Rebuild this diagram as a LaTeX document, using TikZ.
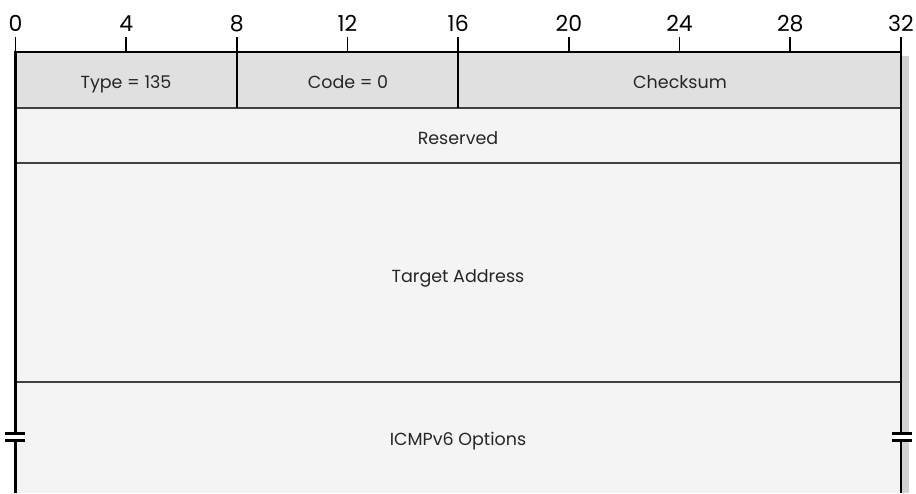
\documentclass[tikz,border=0pt]{standalone}
\usepackage{fontspec}
\setmainfont{Poppins}
\definecolor{hdrfill}{HTML}{E0E0E0}
\definecolor{bodyfill}{HTML}{F4F4F4}
\definecolor{rowline}{HTML}{404040}
\definecolor{shadow}{HTML}{D2D2D2}
\begin{document}
\begin{tikzpicture}[x=1pt,y=-1pt,
  fieldtext/.style={font=\fontsize{17.5}{20}\selectfont, text=black!85, inner sep=0pt, anchor=base},
  ticklabel/.style={font=\fontsize{22}{24}\selectfont, anchor=base, inner sep=0pt},
  frame/.style={line width=2.4pt, black},
  sep/.style={line width=1.6pt, black},
  rowsep/.style={line width=1.8pt, rowline},
  brk/.style={fill=black, draw=none}]
\useasboundingbox (0,0) rectangle (916,493);
\fill[white] (0,0) rectangle (916,493);
% shadow
\fill[shadow] (902,56) rectangle (909,493);
% fills
\fill[hdrfill] (15.5,52) rectangle (901,108);
\fill[bodyfill] (15.5,108) rectangle (901,493);
% row separators
\draw[rowsep] (15.5,108) -- (901,108);
\draw[rowsep] (15.5,163) -- (901,163);
\draw[rowsep] (15.5,382) -- (901,382);
% field separators
\draw[sep] (237,52) -- (237,108);
\draw[sep] (458,52) -- (458,108);
% ticks and labels
\foreach \b in {0,4,...,32} {
  \pgfmathsetmacro{\xx}{15.5+\b*27.67}
  \draw[sep] (\xx,37) -- (\xx,52);
  \node[ticklabel] (t\b) at (\xx,31) {\b};
}
% frame
\draw[frame] (15.5,493) -- (15.5,52) -- (901,52) -- (901,493);
% break marks
\fill[white] (8,434.5) rectangle (23,438.5);
\fill[brk] (5,431.5) rectangle (25,434.5);
\fill[brk] (5,438.5) rectangle (25,441.5);
\fill[white] (894,434.5) rectangle (909,438.5);
\fill[brk] (891.5,431.5) rectangle (911.5,434.5);
\fill[brk] (891.5,438.5) rectangle (911.5,441.5);
% labels
\node[fieldtext] (type) at (126,88.5) {Type = 135};
\node[fieldtext] (code) at (348,88.5) {Code = 0};
\node[fieldtext] (cksum) at (680,88.5) {Checksum};
\node[fieldtext] (resv) at (458,144) {Reserved};
\node[fieldtext] (target) at (458,282) {Target Address};
\node[fieldtext] (opts) at (458,445) {ICMPv6 Options};
\end{tikzpicture}
\end{document}
